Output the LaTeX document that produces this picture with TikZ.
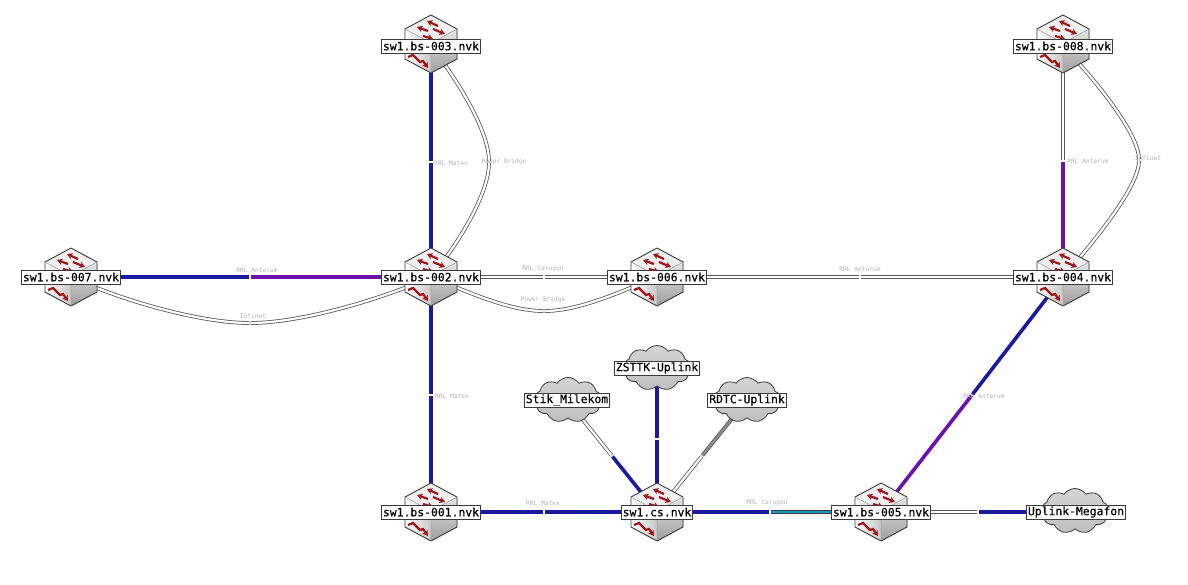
\documentclass[tikz,border=0pt]{standalone}
\usepackage{fontspec}
\setmonofont{DejaVu Sans Mono}
\newfontfamily\devfont[RawFeature={embolden=0.35}]{DejaVu Sans Mono}
\usetikzlibrary{arrows.meta,backgrounds,shapes.symbols}
\definecolor{lnkblue}{HTML}{1A1AA0}
\definecolor{lnkpurple}{HTML}{6A12AE}
\definecolor{lnkcyan}{HTML}{1C9AC4}
\definecolor{hexred}{HTML}{A0141C}
\definecolor{edgedark}{HTML}{3A3A3A}
\tikzset{
  devlabel/.style={draw=edgedark,fill=white,line width=0.7pt,inner xsep=1.5pt,inner ysep=0pt,minimum height=14pt,font=\devfont\fontsize{11.4}{12}\selectfont},
  linktext/.style={text=black!30,inner sep=0pt,font=\ttfamily\fontsize{6.2}{7}\selectfont},
  hollow/.style={draw=edgedark!85,line width=0.8pt,double=white,double distance=2.2pt,shorten >=0.7pt},
  hollowgray/.style={draw=edgedark!85,line width=0.8pt,double=black!45,double distance=2.2pt,shorten >=0.7pt},
  bluelink/.style={draw=lnkblue,line width=3.6pt,shorten >=0.7pt},
  purplelink/.style={draw=lnkpurple,line width=3.6pt,shorten >=0.7pt},
  cyanlink/.style={draw=edgedark,line width=0.6pt,double=lnkcyan,double distance=2.8pt,shorten >=0.7pt},
  netcloud/.style={cloud,cloud puffs=9,cloud puff arc=110,aspect=1.5,draw=edgedark,line width=0.8pt,top color=black!17,bottom color=black!25,minimum width=67pt,minimum height=45pt,inner sep=0pt},
  switchpic/.pic={
    \fill[left color=white,right color=black!22] (-26,-15) -- (0,-1) -- (0,29) -- (-26,15) -- cycle;
    \fill[top color=black!10,bottom color=black!38] (0,-1) -- (26,-15) -- (26,15) -- (0,29) -- cycle;
    \fill[black!6] (0,-29) -- (26,-15) -- (0,-1) -- (-26,-15) -- cycle;
    \draw[edgedark,line width=0.9pt,line join=round] (0,-29) -- (26,-15) -- (26,15) -- (0,29) -- (-26,15) -- (-26,-15) -- cycle;
    \draw[edgedark!50,line width=0.5pt] (-26,-15) -- (0,-1) -- (26,-15) (0,-1) -- (0,29);
    \begin{scope}[hexred,line width=2.2pt,-{Stealth[length=5.5pt,width=6.5pt]}]
      \draw (7,-18) -- (-4,-23);
      \draw (-3,-13) -- (-14,-17);
      \draw (2,-15) -- (14,-10);
      \draw (-8,-8) -- (2,-5);
      \draw (-23,13) -- (-18,11) -- (-11,18) -- (-8,17) -- (-3,24);
    \end{scope}
  }
}
\begin{document}
\begin{tikzpicture}[x=1pt,y=-1pt]
\useasboundingbox (0,0) rectangle (1188,585);
% devices
\foreach \px/\py in {431/44,431/277,71/277,657/277,1063/277,1063/44,431/512,657/512,881/512}
  \pic at (\px,\py) {switchpic};
\node[netcloud] (cStik) at (568,400) {};
\node[netcloud] (cZst) at (657,368) {};
\node[netcloud] (cRdtc) at (747,400) {};
\node[netcloud] (cMega) at (1075,511) {};
\node[devlabel] (n003) at (431,46) {sw1.bs-003.nvk};
\node[devlabel] (n002) at (431,277) {sw1.bs-002.nvk};
\node[devlabel] (n007) at (71,277) {sw1.bs-007.nvk};
\node[devlabel] (n006) at (657,277) {sw1.bs-006.nvk};
\node[devlabel] (n004) at (1063,277) {sw1.bs-004.nvk};
\node[devlabel] (n008) at (1063,46) {sw1.bs-008.nvk};
\node[devlabel] (n001) at (431,512) {sw1.bs-001.nvk};
\node[devlabel] (ncs) at (657,512) {sw1.cs.nvk};
\node[devlabel] (n005) at (881,512) {sw1.bs-005.nvk};
\node[devlabel] (nStik) at (567,400) {Stik\_Milekom};
\node[devlabel] (nZst) at (657,368) {ZSTTK-Uplink};
\node[devlabel] (nRdtc) at (747,400) {RDTC-Uplink};
\node[devlabel] (nMega) at (1076,512) {Uplink-Megafon};
% link midpoints
\coordinate (mA) at (431,162);
\coordinate (mB) at (489,162);
\coordinate (mC) at (250,277);
\coordinate (mD) at (250,323);
\coordinate (mE) at (544,277);
\coordinate (mF) at (544,311);
\coordinate (mG) at (860,277);
\coordinate (mH) at (1063,161);
\coordinate (mI) at (1139,160);
\coordinate (mJ) at (431,395);
\coordinate (mK) at (544,512);
\coordinate (mL) at (770,512);
\coordinate (mM) at (972,395);
\coordinate (mN) at (978,512);
\coordinate (mO) at (612,456);
\coordinate (mP) at (657,439);
\coordinate (mQ) at (702,456);
% link labels
\node[linktext] (tA) at (451,163) {RRL Matex};
\node[linktext] (tB) at (504,162) {Power Bridge};
\node[linktext] (tC) at (257,270) {RRL Anterum};
\node[linktext] (tD) at (253,316) {Infinet};
\node[linktext] (tE) at (543,269) {RRL Carogon};
\node[linktext] (tF) at (543,300) {Power Bridge};
\node[linktext] (tG) at (860,269) {RRL Anterum};
\node[linktext] (tH) at (1088,161) {RRL Anterum};
\node[linktext] (tI) at (1148,158) {Infinet};
\node[linktext] (tJ) at (452,396) {RRL Matex};
\node[linktext] (tK) at (543,503) {RRL Matex};
\node[linktext] (tL) at (767,503) {RRL Carogon};
\node[linktext] (tM) at (984,396) {RRL Anterum};
\begin{pgfonlayer}{background}
  \fill[white] (0,0) rectangle (1188,585);
  % 003 - 002
  \draw[bluelink] (n003.center) -- (mA);
  \draw[bluelink] (n002.center) -- (mA);
  \draw[hollow] (n003.center) .. controls (465,90) and (489,135) .. (mB);
  \draw[hollow] (n002.center) .. controls (465,235) and (489,190) .. (mB);
  % 007 - 002
  \draw[bluelink] (n007.center) -- (mC);
  \draw[purplelink] (n002.center) -- (mC);
  \draw[hollow] (n007.center) .. controls (120,300) and (200,323) .. (mD);
  \draw[hollow] (n002.center) .. controls (380,300) and (300,323) .. (mD);
  % 002 - 006
  \draw[hollow] (n002.center) -- (mE);
  \draw[hollow] (n006.center) -- (mE);
  \draw[hollow] (n002.center) .. controls (470,293) and (510,311) .. (mF);
  \draw[hollow] (n006.center) .. controls (618,293) and (578,311) .. (mF);
  % 006 - 004
  \draw[hollow] (n006.center) -- (mG);
  \draw[hollow] (n004.center) -- (mG);
  % 008 - 004
  \draw[hollow] (n008.center) -- (mH);
  \draw[purplelink] (n004.center) -- (mH);
  \draw[hollow] (n008.center) .. controls (1100,85) and (1139,135) .. (mI);
  \draw[hollow] (n004.center) .. controls (1100,235) and (1139,185) .. (mI);
  % 002 - 001
  \draw[bluelink] (n002.center) -- (mJ);
  \draw[bluelink] (n001.center) -- (mJ);
  % 001 - cs
  \draw[bluelink] (n001.center) -- (mK);
  \draw[bluelink] (ncs.center) -- (mK);
  % cs - 005
  \draw[bluelink] (ncs.center) -- (mL);
  \draw[cyanlink] (n005.center) -- (mL);
  % 005 - 004
  \draw[purplelink] (n005.center) -- (mM);
  \draw[bluelink] (n004.center) -- (mM);
  % 005 - Megafon
  \draw[hollow] (n005.center) -- (mN);
  \draw[bluelink] (nMega.center) -- (mN);
  % clouds - cs
  \draw[hollow] (nStik.center) -- (mO);
  \draw[bluelink] (ncs.center) -- (mO);
  \draw[bluelink] (nZst.center) -- (mP);
  \draw[bluelink] (ncs.center) -- (mP);
  \draw[hollowgray] (nRdtc.center) -- (mQ);
  \draw[hollow] (ncs.center) -- (mQ);
\end{pgfonlayer}
\end{tikzpicture}
\end{document}
